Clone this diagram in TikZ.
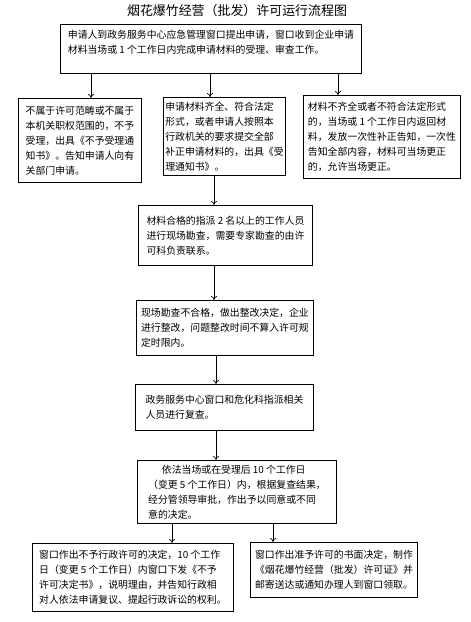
\documentclass[tikz,border=0pt]{standalone}
\usepackage{fontspec}
\newfontfamily\cjk{Noto Sans CJK SC}
\usetikzlibrary{arrows.meta}

\tikzset{
  stepbox/.style={draw, line width=0.7pt, anchor=north west, align=left,
    inner sep=0pt, font=\cjk\fontsize{7.4}{11.2}\selectfont},
  flow/.style={line width=0.5pt, -{To[length=3pt,width=4.5pt]}}
}

\begin{document}
\begin{tikzpicture}[x=0.75pt,y=0.75pt,yscale=-1,xscale=1]
  \useasboundingbox[fill=white] (0,0) rectangle (471,622);

  % Title
  \node [font=\cjk\fontsize{9.7}{12}\selectfont] (title) at (237,11) {烟花爆竹经营（批发）许可运行流程图};

  %Shape: Rectangle -- application
  \node [stepbox, minimum width=225.75pt, minimum height=36.75pt] (apply) at (60,24)
    {申请人到政务服务中心应急管理窗口提出申请，窗口收到企业申请\\材料当场或 1 个工作日内完成申请材料的受理、审查工作。\\\mbox{}};

  %Shape: Rectangle -- three outcomes
  \node [stepbox, minimum width=92.25pt, minimum height=63pt] (reject) at (18,98)
    {不属于许可范畴或不属于\\本机关职权范围的，不予\\受理，出具《不予受理通\\知书》。告知申请人向有\\关部门申请。};
  \node [stepbox, minimum width=91.5pt, minimum height=58.5pt] (accept) at (163,97)
    {申请材料齐全、符合法定\\形式，或者申请人按照本\\行政机关的要求提交全部\\补正申请材料的，出具《受\\理通知书》。};
  \node [stepbox, minimum width=117.75pt, minimum height=62.25pt] (amend) at (303,95)
    {材料不齐全或者不符合法定形式\\的，当场或 1 个工作日内返回材\\料，发放一次性补正告知，一次性\\告知全部内容，材料可当场更正\\的，允许当场更正。};

  %Shape: Rectangle -- inspection
  \node [stepbox, minimum width=130.5pt, minimum height=45pt] (survey) at (138,205)
    {材料合格的指派 2 名以上的工作人员\\进行现场勘查，需要专家勘查的由许\\可科负责联系。};
  \node [stepbox, minimum width=132.75pt, minimum height=41.25pt] (rectify) at (136,300)
    {现场勘查不合格，做出整改决定，企业\\进行整改，问题整改时间不算入许可规\\定时限内。};
  \node [stepbox, minimum width=133.5pt, minimum height=34.5pt] (recheck) at (135,384)
    {政务服务中心窗口和危化科指派相关\\人员进行复查。};
  \node [stepbox, minimum width=149.25pt, minimum height=47.25pt] (decide) at (137,460)
    {\hspace*{1.4em}依法当场或在受理后 10 个工作日\\（变更 5 个工作日）内，根据复查结果，\\经分管领导审批，作出予以同意或不同\\意的决定。};

  %Shape: Rectangle -- decisions
  \node [stepbox, minimum width=150.75pt, minimum height=51pt] (deny) at (32,543)
    {窗口作出不予行政许可的决定，10 个工作\\日（变更 5 个工作日）内窗口下发《不予\\许可决定书》，说明理由，并告知行政相\\对人依法申请复议、提起行政诉讼的权利。};
  \node [stepbox, minimum width=125.25pt, minimum height=41.25pt] (grant) at (250,542)
    {窗口作出准予许可的书面决定，制作\\《烟花爆竹经营（批发）许可证》并\\邮寄送达或通知办理人到窗口领取。};

  %Straight Lines -- arrows
  \draw [flow] (91,0 |- apply.south) -- (91,0 |- reject.north);
  \draw [flow] (210,0 |- apply.south) -- (210,0 |- accept.north);
  \draw [flow] (338,0 |- apply.south) -- (338,0 |- amend.north);
  \draw [flow] (214,0 |- accept.south) -- (214,0 |- survey.north);
  \draw [flow] (214,0 |- survey.south) -- (214,0 |- rectify.north);
  \draw [flow] (216,0 |- rectify.south) -- (216,0 |- recheck.north);
  \draw [flow] (216,0 |- recheck.south) -- (216,0 |- decide.north);
  \draw [flow] (172,0 |- decide.south) -- (172,0 |- deny.north);
  \draw [flow] (273,0 |- decide.south) -- (273,0 |- grant.north);
\end{tikzpicture}
\end{document}
